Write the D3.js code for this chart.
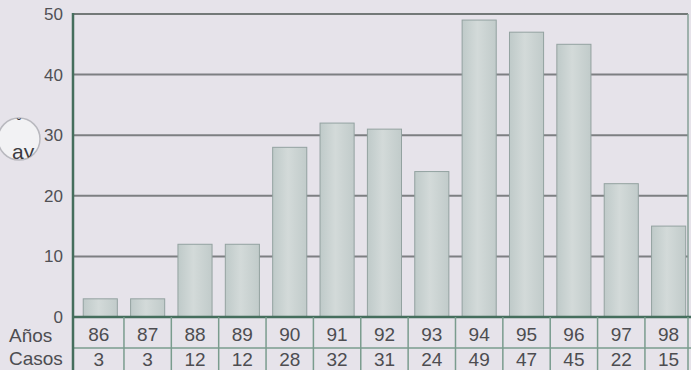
<!DOCTYPE html>
<html>
<head>
<meta charset="utf-8">
<script src="https://cdn.jsdelivr.net/npm/d3@7"></script>
<style>
  html, body { margin: 0; padding: 0; background: #e6e3ea; }
  svg { display: block; }
</style>
</head>
<body>
<svg id="chart" width="691" height="370"></svg>
<script>
// Annual case counts
const years = ["86", "87", "88", "89", "90", "91", "92", "93", "94", "95", "96", "97", "98"];
const cases = [3, 3, 12, 12, 28, 32, 31, 24, 49, 47, 45, 22, 15];
const yTicks = [0, 10, 20, 30, 40, 50];
const rowLabels = ["Años", "Casos"];

const W = 691, H = 370;
const plot = { left: 73, right: 688, top: 14, bottom: 317 };
const tableRows = [317, 348, 378];

const svg = d3.select("#chart");
const defs = svg.append("defs");

const font = "'Liberation Sans', Arial, Helvetica, sans-serif";

// background
svg.append("rect").attr("width", W).attr("height", H).attr("fill", "#e6e3ea");

const x = d3.scaleBand().domain(years).range([76.6, 692.3]).paddingInner(0.28).paddingOuter(0.14);
const xCol = d3.scaleBand().domain(years).range([76.6, 692.3]);
const y = d3.scaleLinear().domain([0, 50]).range([plot.bottom, plot.top]);

// bar shading: lighter toward the middle of each bar
const grad = defs.append("linearGradient").attr("id", "barFill")
  .attr("x1", "0%").attr("x2", "100%").attr("y1", "0%").attr("y2", "0%");
grad.append("stop").attr("offset", "0%").attr("stop-color", "#bfcac9");
grad.append("stop").attr("offset", "45%").attr("stop-color", "#d3dad9");
grad.append("stop").attr("offset", "100%").attr("stop-color", "#c1cbca");

// horizontal grid lines (top one is the frame)
svg.append("g")
  .selectAll("line")
  .data(yTicks.filter(d => d > 0))
  .join("line")
  .attr("x1", plot.left).attr("x2", plot.right)
  .attr("y1", d => y(d)).attr("y2", d => y(d))
  .attr("stroke", d => d === 50 ? "#737978" : "#7d7f82")
  .attr("stroke-width", 2);

// right frame edge
svg.append("line")
  .attr("x1", plot.right).attr("x2", plot.right)
  .attr("y1", plot.top).attr("y2", plot.bottom)
  .attr("stroke", "#86a097").attr("stroke-width", 1.5);

// bars
svg.append("g")
  .selectAll("rect")
  .data(years.map((yr, i) => ({ yr, v: cases[i] })))
  .join("rect")
  .attr("x", d => x(d.yr))
  .attr("y", d => y(d.v))
  .attr("width", x.bandwidth())
  .attr("height", d => y(0) - y(d.v))
  .attr("fill", "url(#barFill)")
  .attr("stroke", "#93a2a0")
  .attr("stroke-width", 1);

// y axis tick labels
const yAxis = d3.axisLeft(y).tickValues(yTicks).tickSize(0).tickPadding(10);
const gy = svg.append("g").attr("transform", `translate(${plot.left},0)`).call(yAxis);
gy.select(".domain").remove();
gy.selectAll("text")
  .attr("font-family", font).attr("font-size", 17)
  .attr("fill", "#505054");

// table under the chart
const table = svg.append("g");
// horizontal rules
table.selectAll("line.h")
  .data(tableRows)
  .join("line").attr("class", "h")
  .attr("x1", plot.left).attr("x2", W)
  .attr("y1", d => d).attr("y2", d => d)
  .attr("stroke", (d, i) => i === 0 ? "#456e5d" : "#7a9c8e")
  .attr("stroke-width", (d, i) => i === 0 ? 2.5 : 1.5);
// column separators
table.selectAll("line.v")
  .data(years.slice(1))
  .join("line").attr("class", "v")
  .attr("x1", d => xCol(d)).attr("x2", d => xCol(d))
  .attr("y1", tableRows[0]).attr("y2", H)
  .attr("stroke", "#7a9c8e").attr("stroke-width", 1.5);
// right table edge
table.append("line")
  .attr("x1", plot.right).attr("x2", plot.right)
  .attr("y1", tableRows[0]).attr("y2", H)
  .attr("stroke", "#7a9c8e").attr("stroke-width", 1.5);

// row cells
[years, cases].forEach((row, r) => {
  table.append("g")
    .selectAll("text")
    .data(row)
    .join("text")
    .attr("x", (d, i) => {
      const cx = xCol(years[i]) + xCol.bandwidth() / 2;
      return i === 0 ? cx - 1.5 : cx;
    })
    .attr("y", r === 0 ? 341 : 366)
    .attr("text-anchor", "middle")
    .attr("font-family", font).attr("font-size", 19)
    .attr("fill", "#4d4d51")
    .text(d => d);
});
table.selectAll("text.rowlabel")
  .data(rowLabels)
  .join("text").attr("class", "rowlabel")
  .attr("x", 9)
  .attr("y", (d, i) => i === 0 ? 342 : 365)
  .attr("font-family", font).attr("font-size", 19)
  .attr("fill", "#4d4d51")
  .text(d => d);

// left axis line, drawn last so it sits above the grid
svg.append("line")
  .attr("x1", plot.left).attr("x2", plot.left)
  .attr("y1", plot.top - 1).attr("y2", H)
  .attr("stroke", "#456e5d").attr("stroke-width", 2.5);

// punched hole in the page margin showing the sheet underneath
const hole = { cx: 19, cy: 139, r: 21 };
defs.append("clipPath").attr("id", "holeClip")
  .append("circle").attr("cx", hole.cx).attr("cy", hole.cy).attr("r", hole.r);
const hg = svg.append("g");
hg.append("circle").attr("cx", hole.cx).attr("cy", hole.cy).attr("r", hole.r)
  .attr("fill", "#f2f2f4")
  .attr("stroke", "#b9b9bf").attr("stroke-width", 1.5);
const inner = hg.append("g").attr("clip-path", "url(#holeClip)");
inner.append("text")
  .attr("x", 12).attr("y", 159)
  .attr("font-family", font).attr("font-size", 21)
  .attr("fill", "#3b3b40")
  .text("ay");
inner.append("text")
  .attr("x", 17).attr("y", 128)
  .attr("font-family", font).attr("font-size", 13)
  .attr("fill", "#3b3b40")
  .text("˘");
</script>
</body>
</html>
